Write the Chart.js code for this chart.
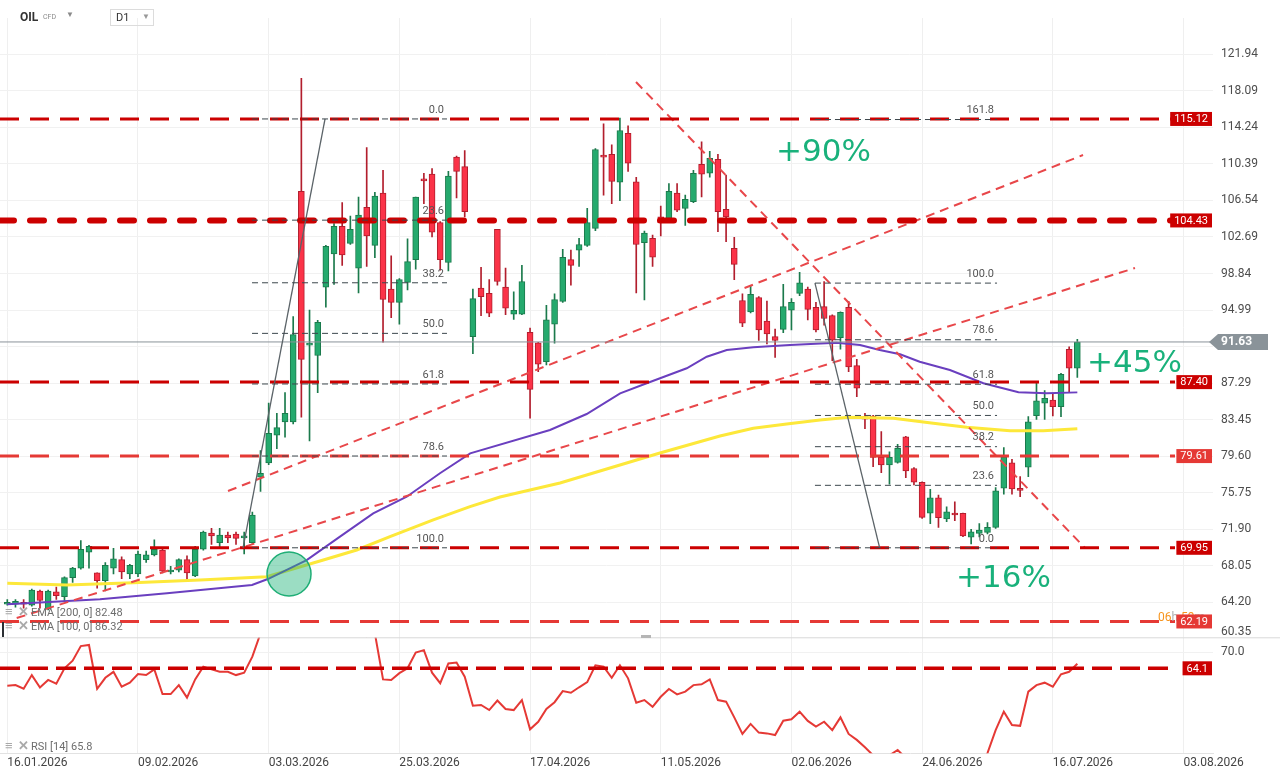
<!DOCTYPE html>
<html>
<head>
<meta charset="utf-8">
<title>OIL CFD D1</title>
<script src="https://cdn.jsdelivr.net/npm/chart.js@4.4.1/dist/chart.umd.min.js"></script>
<style>
  html, body { margin: 0; padding: 0; background: #fff; width: 1280px; height: 779px; overflow: hidden; font-family: Roboto, sans-serif; }
  canvas { position: absolute; left: 0; top: 0; }
  .txt { position: absolute; white-space: nowrap; z-index: 5; }
  .leg { position: absolute; font-size: 11px; color: #6d6d6d; white-space: nowrap; z-index: 5; line-height: 13px; }
  .leg b { color: #a9a9a9; font-weight: bold; font-size: 13px; margin-right: 3px; display: inline-block; width: 10px; }
</style>
</head>
<body>
<canvas id="priceChart" width="1280" height="779"></canvas>
<canvas id="rsiChart" width="1280" height="779"></canvas>

<!-- header -->
<div class="txt" style="left:20px;top:10px;font-size:12px;font-weight:bold;color:#333">OIL</div>
<div class="txt" style="left:43px;top:13px;font-size:7px;color:#8a8a8a">CFD</div>
<div class="txt" style="left:66px;top:10px;font-size:8px;color:#8a8a8a">&#9660;</div>
<div class="txt" style="left:110px;top:9px;width:42px;height:15px;border:1px solid #dcdcdc"></div>
<div class="txt" style="left:116px;top:11px;font-size:11px;color:#333">D1</div>
<div class="txt" style="left:142px;top:12px;font-size:8px;color:#999">&#9660;</div>

<!-- indicator legends -->
<div class="leg" style="left:5px;top:605px"><b>&#8801;</b><b>&#10005;</b>EMA [200, 0] 82.48</div>
<div class="leg" style="left:5px;top:619px"><b>&#8801;</b><b>&#10005;</b>EMA [100, 0] 86.32</div>
<div class="leg" style="left:5px;top:739px"><b>&#8801;</b><b>&#10005;</b>RSI [14] 65.8</div>
<div class="txt" style="left:2px;top:622px;width:2px;height:15px;background:#2b2f33"></div>
<div class="txt" style="left:641px;top:635px;width:10px;height:3px;background:#b5b5b5"></div>

<script>
// ---- dữ liệu nến (mỗi chỉ số = một phiên D1, 0 = 16.01.2026) ----
const opens = [64.0,64.0,64.2,63.9,65.4,63.5,65.3,64.8,66.8,67.8, 69.5,67.3,66.5,67.8,68.7,67.2,67.2,68.7,69.2,69.7,
  67.4,67.6,68.7,67.0,69.8,71.5,70.5,71.3,71.4,71.0, 70.5,77.4,78.9,81.8,83.2,83.2,107.5,91.3,90.2,97.4,
  100.9,103.8,102.0,99.4,105.8,101.8,107.3,97.2,95.8,97.9, 100.3,108.8,109.3,104.2,100.0,111.1,110.1,92.2,97.3,96.75,
  103.5,97.4,94.55,94.55,92.65,91.55,89.55,93.5,95.9,100.3, 101.3,101.8,103.6,111.3,111.4,108.45,113.6,108.5,102.1,102.55,
  104.8,104.65,107.3,105.7,106.4,110.35,109.4,110.87,105.6,101.5, 96.0,94.8,96.3,93.83,92.2,92.96,94.97,96.75,97.2,95.28,
  95.35,94.4,92.08,95.28,89.13,83.76,83.83,79.48,78.67,78.95, 81.65,78.3,76.85,73.6,75.2,72.98,73.58,73.58,71.06,71.47,
  71.58,72.1,76.22,78.9,76.22,78.43,83.86,85.17,85.52,84.81, 90.86,88.86];
const highs = [64.5,64.5,64.5,65.6,65.5,65.5,65.8,66.9,67.9,70.7, 70.2,67.3,68.4,69.9,69.0,68.2,69.6,69.6,70.8,69.9,
  68.0,68.8,69.1,70.1,71.7,72.0,72.0,71.6,71.6,71.6, 73.7,80.2,85.2,84.1,86.3,94.3,119.4,95.0,93.9,101.8,
  104.1,106.3,104.9,106.9,112.1,107.4,109.7,100.7,98.3,102.5, 106.9,109.4,109.9,104.3,109.6,111.2,111.8,97.2,99.5,98.2,
  103.5,99.4,96.9,99.7,93.1,91.6,95.5,96.7,101.4,101.3, 102.55,105.7,112.0,114.6,112.4,115.2,114.4,108.97,103.3,102.9,
  105.95,108.3,108.3,107.1,109.7,112.7,111.7,111.4,109.2,102.65, 96.7,97.6,96.4,95.94,93.0,97.7,96.2,98.97,97.4,95.8,
  98.0,94.5,94.8,95.9,89.8,84.1,83.9,82.2,80.07,80.85, 81.7,78.4,76.9,76.1,75.5,74.27,74.8,73.6,71.9,72.5,
  72.6,76.3,80.5,79.27,77.44,83.76,87.38,86.5,86.15,88.33, 91.13,91.91];
const lows = [63.9,63.7,63.6,63.8,63.6,63.4,64.5,64.3,66.3,67.7, 67.8,65.7,65.4,67.2,66.7,66.7,66.9,68.4,69.1,67.3,
  67.2,67.4,66.6,66.9,69.7,70.3,70.0,70.5,70.3,69.3, 70.4,75.9,78.7,80.4,81.6,83.0,83.7,81.2,86.3,95.3,
  97.7,99.7,101.9,96.8,99.6,100.5,91.6,94.2,93.5,97.1, 99.3,106.2,102.7,99.2,99.1,106.8,104.8,90.4,94.4,94.3,
  97.6,94.5,94.0,94.5,83.6,88.5,89.2,91.5,95.8,97.6, 99.6,101.7,103.35,107.1,106.2,106.5,109.6,96.8,96.05,99.6,
  102.8,104.6,105.35,103.9,106.3,106.9,109.0,103.25,102.2,98.2, 93.24,94.7,91.8,91.42,90.0,92.6,92.9,96.5,93.94,92.7,
  93.4,89.65,90.86,88.5,85.87,82.5,78.5,77.86,76.64,78.85, 77.33,76.56,73.05,72.5,72.1,72.7,72.8,71.12,70.35,71.1,
  71.4,72.0,75.6,75.6,75.33,77.44,83.48,83.48,83.83,83.76, 86.33,87.9];
const closes = [64.2,64.3,64.0,65.5,64.4,65.4,64.9,66.8,67.8,69.8, 70.1,66.5,68.1,68.8,67.4,68.1,69.3,69.2,69.8,67.5,
  67.6,68.7,67.3,69.8,71.6,71.2,71.3,71.0,70.95,71.2, 73.4,77.8,82.0,82.6,84.1,92.4,89.8,91.5,93.7,101.7,
  103.8,100.8,103.5,105.0,102.8,107.0,96.1,95.8,98.2,100.1, 106.9,108.6,103.2,100.3,109.1,109.6,105.35,96.2,96.4,94.65,
  98.0,95.2,94.97,98.0,86.64,89.3,93.95,96.1,100.55,99.7, 101.9,104.2,111.9,111.1,108.55,113.9,110.45,101.9,103.1,100.55,
  104.2,107.5,105.5,106.65,109.4,109.3,110.98,105.35,104.8,99.8, 93.6,96.65,92.9,92.47,91.8,95.35,95.8,97.87,95.07,92.9,
  94.1,91.83,94.76,89.0,86.75,83.5,79.48,78.67,79.48,80.43, 78.04,76.85,73.16,75.2,73.12,73.75,73.4,71.19,71.64,71.82,
  72.1,75.96,79.54,76.14,76.0,83.23,85.44,85.7,84.81,88.22, 88.86,91.63];

// RSI(14) (ngoài khung thì ước lượng)
const rsi = [57.7,57.9,56.6,61.6,57.0,59.8,58.4,64.1,66.9,72.3, 72.7,56.5,60.6,62.8,57.3,58.8,62.0,61.6,63.7,54.6,
  54.6,57.9,53.3,60.0,64.7,63.7,62.8,62.8,61.6,62.5, 68.4,77.0,82.0,83.0,84.5,88.0,80.0,80.5,82.0,86.0,
  87.0,82.0,84.0,85.0,76.0,77.0,60.0,59.8,62.3,64.1, 69.9,70.8,62.5,58.6,65.9,66.2,61.0,50.3,50.6,48.7,
  52.2,49.1,48.7,52.4,41.6,44.4,49.1,51.6,55.7,55.1, 57.1,59.0,65.2,64.7,60.6,65.2,60.4,51.4,52.4,49.9,
  53.6,56.5,54.5,55.5,57.9,58.2,60.0,52.4,51.8,46.0, 39.9,43.6,40.4,40.1,39.5,44.8,45.3,48.1,44.7,42.6,
  44.4,41.3,46.0,39.9,37.7,35.0,32.0,30.5,32.0,34.0, 31.0,30.0,27.5,29.0,27.5,28.0,27.8,25.5,26.5,27.0,
  32.8,41.3,48.1,43.2,42.9,55.5,57.9,58.8,57.3,61.9, 62.8,65.8];

// EMA: [chỉ số phiên, giá]
const ema100 = [[0,64.0],[11.35,64.52],[19.55,65.16],[29.96,66.03],[31.9,66.66],[36.65,68.66],[40.73,71.12],
  [44.8,73.58],[48.9,75.33],[52.97,77.8],[56.67,79.9],[66.44,82.36],[70.93,84.04],[75.03,86.22],[78.28,87.28],
  [83.18,88.86],[85.63,90.08],[88.08,90.78],[91.33,91.07],[95.82,91.31],[101.5,91.55],[104.4,91.31],[106.8,90.78],
  [109.3,90.33],[111.7,89.55],[115.4,88.68],[119.5,87.28],[123.8,86.33],[127.25,86.22],[131,86.32]];
const ema200 = [[0,66.21],[7.27,66.03],[15.43,66.27],[23.59,66.56],[31.76,66.91],[38.69,68.66],[42.78,69.72],
  [46.85,71.12],[52.15,72.88],[56.65,74.28],[60.32,75.3],[67.67,76.77],[72.56,78.04],[79.9,79.94],[87.25,81.72],
  [91.33,82.54],[95.42,82.99],[99.5,83.41],[102.96,83.69],[108.47,83.59],[113.37,83.06],[117.46,82.64],
  [122.76,82.28],[126.84,82.28],[131,82.5]];

// trục
const dateTicks = [0, 16, 32, 48, 64, 80, 96, 112, 128, 144];
const dateLabels = ['16.01.2026','09.02.2026','03.03.2026','25.03.2026','17.04.2026','11.05.2026','02.06.2026','24.06.2026','16.07.2026','03.08.2026'];
const priceTicks = [64.20, 68.05, 71.90, 75.75, 79.60, 83.45, 87.29, 91.14, 94.99, 98.84, 102.69, 106.54, 110.39, 114.24, 118.09, 121.94];

// các mức ngang (đường đứt đỏ)
const levels = [115.12, 104.43, 87.40, 79.61, 69.95, 62.19];
const levelColors = ['#cc0000', '#cc0000', '#cc0000', '#e53935', '#cc0000', '#e53935'];
const levelWidths = [3, 6, 3, 3, 3, 3];
const rsiLevel = 64.1;

// đường xu hướng: [chỉ số, giá]
const trendLow = [[1.15, 62.55], [138.06, 99.42]];
const trendHigh = [[27.02, 75.93], [131.7, 111.32]];
const trendDown = [[76.97, 119.01], [131.94, 69.93]];

// Fibonacci
const fibRatios1 = [0, 23.6, 38.2, 50, 61.8, 78.6, 100];
const fibRatios2 = [0, 23.6, 38.2, 50, 61.8, 78.6, 100, 161.8];
const fib1 = { from: 29.96, to: 53.83, p0: 115.12, p100: 69.95 };
const fib2 = { from: 98.88, to: 121.17, p0: 69.95, p100: 97.83 };
const fib1Diag = [[28.86, 69.95], [38.9, 115.12]];
const fib2Diag = [[98.88, 97.83], [106.8, 69.95]];

// chú thích phần trăm
const moveLabels = ['+90%', '+45%', '+16%'];
const moveX = [94.11, 132.19, 116.15];
const moveY = [111.85, 89.62, 66.98];
const circleAt = [34.49, 67.19];

// ---- cấu hình chung ----
const X_MIN = -0.894, X_MAX = 147.61;
const GREEN = '#25aa6e', GREEN_DK = '#1b7a4c', RED = '#fb3348', RED_DK = '#b21e2d';
Chart.defaults.font.family = 'Roboto, sans-serif';

const idx = closes.map((c, i) => i);
const up = closes.map((c, i) => c >= opens[i]);
const pts = arr => arr.map(p => ({ x: p[0], y: p[1] }));
const lastClose = closes[closes.length - 1];

function flatLine(v, from, to, color, width, dash, cap, order) {
  return { type: 'line', data: [{ x: from, y: v }, { x: to, y: v }], borderColor: color, borderWidth: width,
    borderDash: dash, borderCapStyle: cap || 'butt', pointRadius: 0, fill: false, order: order };
}

const datasets = [
  { type: 'bar', data: idx.map(i => ({ x: i, y: [lows[i], highs[i]] })), backgroundColor: up.map(u => u ? GREEN_DK : RED_DK),
    barThickness: 1, grouped: false, order: 20 },
  { type: 'bar', data: idx.map(i => ({ x: i, y: [opens[i], closes[i]] })), backgroundColor: up.map(u => u ? GREEN : RED),
    borderColor: up.map(u => u ? GREEN_DK : RED_DK), borderWidth: 1, borderSkipped: false, barThickness: 6,
    minBarLength: 2, grouped: false, order: 19 },
  { type: 'line', data: pts(ema200), borderColor: '#fde83a', borderWidth: 3, pointRadius: 0, fill: false, order: 8 },
  { type: 'line', data: pts(ema100), borderColor: '#6a3fbf', borderWidth: 2, pointRadius: 0, fill: false, order: 7 }
];
[trendLow, trendHigh, trendDown].forEach(t => datasets.push({ type: 'line', data: pts(t), borderColor: '#e8474a',
  borderWidth: 2, borderDash: [9, 6], pointRadius: 0, fill: false, order: 6 }));
levels.forEach((v, k) => datasets.push(k === 1
  ? flatLine(v, X_MIN, 142.96, levelColors[k], levelWidths[k], [14, 16], 'round', 5)
  : flatLine(v, X_MIN, 142.96, levelColors[k], levelWidths[k], [19, 11], 'butt', 5)));
datasets.push(flatLine(lastClose, X_MIN, X_MAX, '#8a9399', 1, [], 'butt', 4));
[[fib1, fibRatios1], [fib2, fibRatios2]].forEach(([f, rs]) => rs.forEach(r => datasets.push(
  flatLine(f.p0 + (f.p100 - f.p0) * r / 100, f.from, f.to, '#3c474d', 1, [6, 4], 'butt', 3))));
[fib1Diag, fib2Diag].forEach(d => datasets.push({ type: 'line', data: pts(d), borderColor: '#5b6368', borderWidth: 1.3,
  pointRadius: 0, fill: false, order: 3 }));
datasets.push({ type: 'line', data: [{ x: circleAt[0], y: circleAt[1] }], showLine: false, pointRadius: 22,
  pointBackgroundColor: 'rgba(34,180,122,0.45)', pointBorderColor: '#1fae76', pointBorderWidth: 1.5, order: 1 });

function labelBox(ctx, text, right, yc, color) {
  ctx.font = '11px Roboto';
  const w = ctx.measureText(text).width + 8;
  ctx.fillStyle = color;
  ctx.fillRect(right - w, yc - 7, w, 14);
  ctx.fillStyle = '#fff';
  ctx.textAlign = 'center';
  ctx.textBaseline = 'middle';
  ctx.fillText(text, right - w / 2, yc + 0.5);
}

const priceNotes = {
  id: 'priceNotes',
  afterDatasetsDraw(chart) {
    const { ctx, scales: { x, y } } = chart;
    ctx.save();
    ctx.font = '11px Roboto';
    ctx.fillStyle = '#555';
    ctx.textAlign = 'right';
    ctx.textBaseline = 'middle';
    [[fib1, fibRatios1], [fib2, fibRatios2]].forEach(([f, rs]) => rs.forEach(r => {
      const v = f.p0 + (f.p100 - f.p0) * r / 100;
      ctx.fillText(r.toFixed(1), x.getPixelForValue(f.to) - 3, y.getPixelForValue(v) - 9);
    }));
    ctx.font = '31px "DejaVu Sans"';
    ctx.fillStyle = '#19b17b';
    ctx.textAlign = 'left';
    ctx.textBaseline = 'alphabetic';
    moveLabels.forEach((t, k) => ctx.fillText(t, x.getPixelForValue(moveX[k]), y.getPixelForValue(moveY[k]) + 11));
    ctx.restore();
  },
  afterDraw(chart) {
    const { ctx, chartArea, scales: { y } } = chart;
    ctx.save();
    // đếm ngược nến
    ctx.font = '12px Roboto';
    ctx.textBaseline = 'middle';
    ctx.textAlign = 'left';
    let cx = 1158;
    [['06', '#f7941d'], ['h ', '#b0b0b0'], ['59', '#f7941d'], ['m', '#b0b0b0']].forEach(([s, c]) => {
      ctx.fillStyle = c; ctx.fillText(s, cx, 618); cx += ctx.measureText(s).width;
    });
    levels.forEach((v, k) => labelBox(ctx, v.toFixed(2), chartArea.right - 1, y.getPixelForValue(v), levelColors[k]));
    // nhãn 60.35 ở đáy trục
    ctx.font = '12px Roboto';
    ctx.fillStyle = '#4d4d4d';
    ctx.textAlign = 'left';
    ctx.fillText('60.35', chartArea.right + 8, 632);
    // giá hiện tại
    const py = y.getPixelForValue(lastClose);
    const r = chartArea.right;
    ctx.fillStyle = '#8a9399';
    ctx.beginPath();
    ctx.moveTo(r - 4, py);
    ctx.lineTo(r + 5, py - 8);
    ctx.lineTo(r + 55, py - 8);
    ctx.lineTo(r + 55, py + 8);
    ctx.lineTo(r + 5, py + 8);
    ctx.closePath();
    ctx.fill();
    ctx.fillStyle = '#fff';
    ctx.font = 'bold 12px Roboto';
    ctx.fillText(lastClose.toFixed(2), r + 8, py + 0.5);
    ctx.restore();
  }
};

new Chart(document.getElementById('priceChart'), {
  type: 'bar',
  data: { datasets: datasets },
  options: {
    responsive: false,
    animation: false,
    layout: { autoPadding: false, padding: { top: 18, left: 0, right: 0, bottom: 141.7 } },
    plugins: { legend: { display: false }, tooltip: { enabled: false } },
    scales: {
      x: {
        type: 'linear', min: X_MIN, max: X_MAX, offset: false,
        grid: { color: '#efefef', drawTicks: false, offset: false },
        border: { display: false },
        ticks: { display: false },
        afterBuildTicks: s => { s.ticks = dateTicks.map(v => ({ value: v })); },
        afterFit: s => { s.height = 0; }
      },
      y: {
        type: 'linear', position: 'right', min: 60.522, max: 125.753,
        grid: { color: '#f1f1f1', drawTicks: false },
        border: { display: false },
        ticks: { padding: 8, color: '#4d4d4d', font: { size: 12 }, autoSkip: false,
          callback: v => (v === 91.14 ? '' : v.toFixed(2)) },
        afterBuildTicks: s => { s.ticks = priceTicks.map(v => ({ value: v })); },
        afterFit: s => { s.width = 67; }
      }
    }
  },
  plugins: [priceNotes]
});

// ---- RSI ----
const rsiNotes = {
  id: 'rsiNotes',
  afterDraw(chart) {
    const { ctx, chartArea, scales: { y } } = chart;
    ctx.save();
    ctx.strokeStyle = '#d9d9d9';
    ctx.lineWidth = 1;
    ctx.beginPath();
    ctx.moveTo(0, chartArea.top + 0.5);
    ctx.lineTo(1280, chartArea.top + 0.5);
    ctx.stroke();
    labelBox(ctx, rsiLevel.toFixed(1), chartArea.right - 1, y.getPixelForValue(rsiLevel), '#cc0000');
    ctx.restore();
  }
};

new Chart(document.getElementById('rsiChart'), {
  type: 'line',
  data: {
    datasets: [
      { data: idx.map(i => ({ x: i, y: rsi[i] })), borderColor: '#e53935', borderWidth: 2, pointRadius: 0, fill: false, order: 2 },
      flatLine(rsiLevel, X_MIN, 142.96, '#cc0000', 3.5, [20, 8], 'butt', 1)
    ]
  },
  options: {
    responsive: false,
    animation: false,
    layout: { autoPadding: false, padding: { top: 637.3, left: 0, right: 0, bottom: 0 } },
    plugins: { legend: { display: false }, tooltip: { enabled: false } },
    scales: {
      x: {
        type: 'linear', min: X_MIN, max: X_MAX,
        grid: { color: '#efefef', drawTicks: false },
        border: { display: true, color: '#e2e2e2' },
        ticks: { align: 'start', padding: 2, color: '#444', font: { size: 12 }, autoSkip: false, maxRotation: 0,
          callback: (v, k) => dateLabels[k] },
        afterBuildTicks: s => { s.ticks = dateTicks.map(v => ({ value: v })); },
        afterFit: s => { s.height = 25.7; }
      },
      y: {
        type: 'linear', position: 'right', min: 32.76, max: 75.53,
        grid: { color: '#f1f1f1', drawTicks: false },
        border: { display: false },
        ticks: { padding: 8, color: '#4d4d4d', font: { size: 12 }, callback: v => v.toFixed(1) },
        afterBuildTicks: s => { s.ticks = [{ value: 70 }]; },
        afterFit: s => { s.width = 67; }
      }
    }
  },
  plugins: [rsiNotes]
});
</script>
</body>
</html>
